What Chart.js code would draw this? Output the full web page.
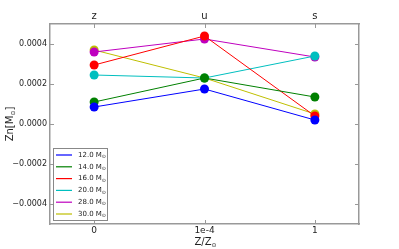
<!DOCTYPE html>
<html>
<head>
<meta charset="utf-8">
<script src="https://cdn.jsdelivr.net/npm/chart.js@4/dist/chart.umd.min.js"></script>
<style>
  html, body { margin: 0; padding: 0; background: #fff; }
  #wrap { width: 399px; height: 249px; }
</style>
</head>
<body>
<div id="wrap"><canvas id="znChart"></canvas></div>
<script>
// data
const bottomLabels = ['0', '1e-4', '1'];
const topLabels = ['z', 'u', 's'];
const masses = ['12.0', '14.0', '16.0', '20.0', '28.0', '30.0'];
const colors = ['#0000ff', '#008000', '#ff0000', '#00bfbf', '#bf00bf', '#bfbf00'];
const yTicks = [-0.0004, -0.0002, 0, 0.0002, 0.0004];

const zn12 = [0.000085, 0.000175, 0.00002];
const zn14 = [0.00011, 0.00023, 0.000135];
const zn16 = [0.000295, 0.00044, 0.00004];
const zn20 = [0.000245, 0.00023, 0.00034];
const zn28 = [0.00036, 0.000425, 0.000335];
const zn30 = [0.00037, 0.00023, 0.00005];
const series = [zn12, zn14, zn16, zn20, zn28, zn30];

const FONT = "'DejaVu Sans', sans-serif";
const tickColor = '#222';
const axisGrey = '#999';

function fmt(v) {
  const s = Math.abs(v).toFixed(4);
  return v < -1e-12 ? '\u2212' + s : s;
}

// inward tick marks + legend drawn inside the plot
const extras = {
  id: 'extras',
  afterDraw(chart) {
    const ctx = chart.ctx;
    const a = chart.chartArea;
    const sy = chart.scales.y, sx = chart.scales.x;
    ctx.save();
    ctx.strokeStyle = axisGrey;
    ctx.lineWidth = 1;
    ctx.beginPath();
    yTicks.forEach(v => {
      const p = Math.round(sy.getPixelForValue(v)) + 0.5;
      ctx.moveTo(a.left, p); ctx.lineTo(a.left + 4, p);
      ctx.moveTo(a.right, p); ctx.lineTo(a.right - 4, p);
    });
    [0, 1, 2].forEach(v => {
      const p = Math.round(sx.getPixelForValue(v)) + 0.5;
      ctx.moveTo(p, a.top); ctx.lineTo(p, a.top + 4);
      ctx.moveTo(p, a.bottom); ctx.lineTo(p, a.bottom - 4);
    });
    ctx.stroke();

    // legend box
    const bx = a.left + 3, by = a.top + 124, bw = 54, bh = 72;
    ctx.fillStyle = '#fff';
    ctx.fillRect(bx, by, bw, bh);
    ctx.strokeStyle = '#888';
    ctx.strokeRect(bx + 0.5, by + 0.5, bw, bh);
    masses.forEach((m, i) => {
      const yy = by + 7 + i * 11.8;
      ctx.strokeStyle = colors[i];
      ctx.lineWidth = 1.2;
      ctx.beginPath();
      ctx.moveTo(bx + 3, yy); ctx.lineTo(bx + 19, yy);
      ctx.stroke();
      ctx.fillStyle = tickColor;
      ctx.font = '7px ' + FONT;
      ctx.textBaseline = 'middle';
      ctx.textAlign = 'left';
      const t = m + ' M';
      ctx.fillText(t, bx + 25, yy);
      const w = ctx.measureText(t).width;
      ctx.font = '5px ' + FONT;
      ctx.fillText('\u2299', bx + 25 + w, yy + 2);
    });

    // axis titles
    ctx.fillStyle = tickColor;
    ctx.font = '10px ' + FONT;
    ctx.textAlign = 'left';
    ctx.textBaseline = 'alphabetic';
    const cx = (a.left + a.right) / 2;
    const xt = 'Z/Z';
    const xw = ctx.measureText(xt).width;
    ctx.font = '10px ' + FONT;
    ctx.fillText(xt, cx - 10, 245);
    ctx.font = '6px ' + FONT;
    ctx.fillText('\u2299', cx - 10 + xw, 247);

    ctx.translate(13, (a.top + a.bottom) / 2);
    ctx.rotate(-Math.PI / 2);
    ctx.font = '10px ' + FONT;
    ctx.textAlign = 'left';
    const y1 = 'Zn[M';
    const w1 = ctx.measureText(y1).width;
    ctx.font = '6px ' + FONT;
    const w2 = ctx.measureText('\u2299').width;
    ctx.font = '10px ' + FONT;
    const w3 = ctx.measureText(']').width;
    let x0 = -(w1 + w2 + w3) / 2;
    ctx.fillText(y1, x0, 0);
    ctx.font = '6px ' + FONT;
    ctx.fillText('\u2299', x0 + w1, 2);
    ctx.font = '10px ' + FONT;
    ctx.fillText(']', x0 + w1 + w2, 0);
    ctx.restore();
  }
};

const datasets = series.map((vals, i) => ({
  label: masses[i] + ' M\u2299',
  data: vals.map((v, j) => ({ x: j, y: v })),
  borderColor: colors[i],
  backgroundColor: colors[i],
  borderWidth: 1,
  pointRadius: 4.5,
  pointBorderWidth: 0,
  pointHoverRadius: 4.5,
  tension: 0
}));

new Chart(document.getElementById('znChart'), {
  type: 'line',
  data: { datasets },
  options: {
    responsive: true,
    maintainAspectRatio: false,
    animation: false,
    layout: { padding: 0 },
    plugins: { legend: { display: false }, tooltip: { enabled: false } },
    scales: {
      x: {
        type: 'linear', position: 'bottom', min: -0.4, max: 2.4,
        afterBuildTicks: s => { s.ticks = [0, 1, 2].map(v => ({ value: v })); },
        afterFit: s => { s.height = 25; },
        grid: { display: false, drawTicks: false },
        border: { color: axisGrey, width: 1.5 },
        ticks: { color: tickColor, font: { family: FONT, size: 9 }, padding: 1,
          maxRotation: 0, callback: v => bottomLabels[v] }
      },
      x2: {
        type: 'linear', position: 'top', min: -0.4, max: 2.4,
        afterBuildTicks: s => { s.ticks = [0, 1, 2].map(v => ({ value: v })); },
        afterFit: s => { s.height = 24; },
        grid: { display: false, drawTicks: false },
        border: { color: axisGrey, width: 1.5 },
        ticks: { color: tickColor, font: { family: FONT, size: 10 }, padding: 2,
          maxRotation: 0, callback: v => topLabels[v] }
      },
      y: {
        type: 'linear', position: 'left', min: -0.0005, max: 0.0005,
        afterBuildTicks: s => { s.ticks = yTicks.map(v => ({ value: v })); },
        afterFit: s => { s.width = 50; },
        grid: { display: false, drawTicks: false },
        border: { color: axisGrey, width: 1.5 },
        ticks: { color: tickColor, font: { family: FONT, size: 8 }, padding: 3,
          callback: v => fmt(v) }
      },
      y2: {
        type: 'linear', position: 'right', min: -0.0005, max: 0.0005,
        afterFit: s => { s.width = 40; },
        grid: { display: false, drawTicks: false },
        border: { color: axisGrey, width: 1.5 },
        ticks: { display: false }
      }
    }
  },
  plugins: [extras]
});
</script>
</body>
</html>
